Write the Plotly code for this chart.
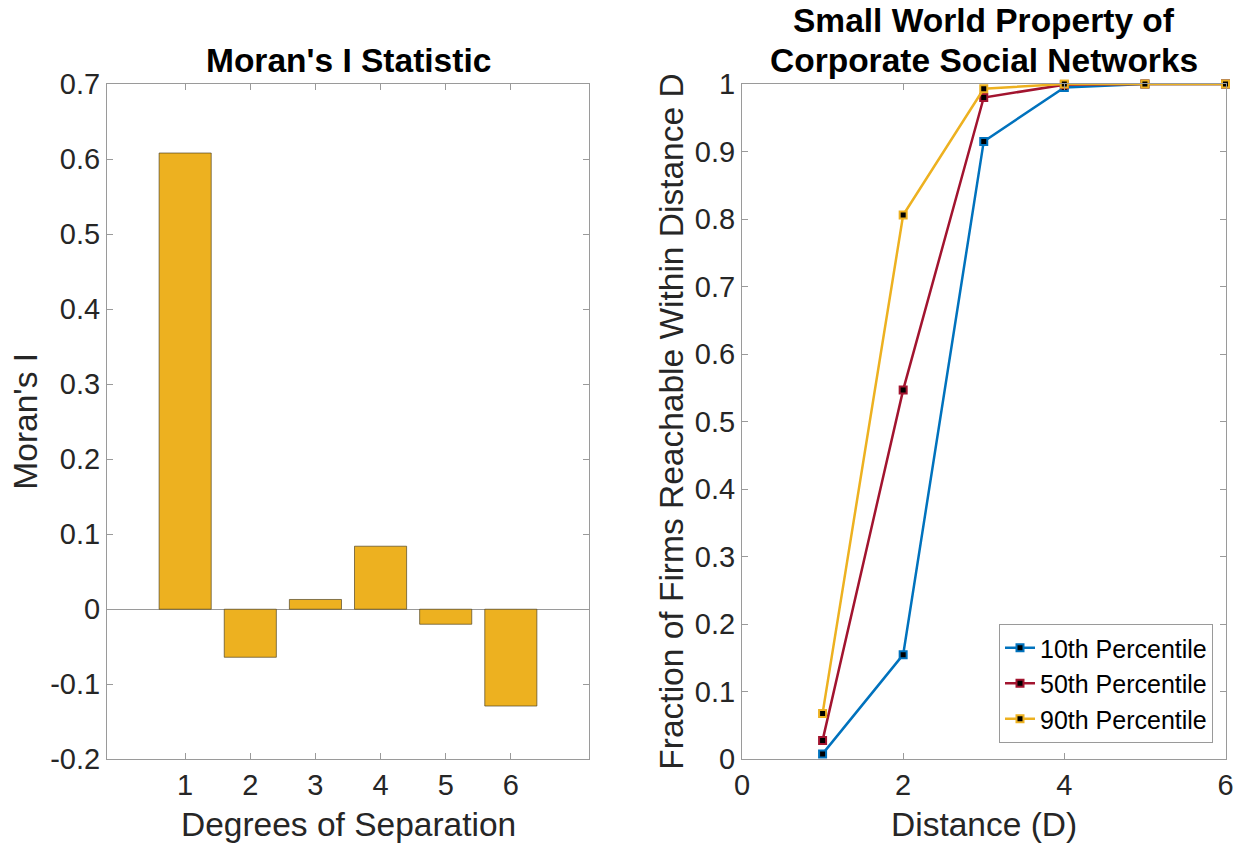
import plotly.graph_objects as go

# ---- data ----
degrees = [1, 2, 3, 4, 5, 6]
morans_i = [0.608, -0.064, 0.013, 0.084, -0.020, -0.129]

distance = [1, 2, 3, 4, 5, 6]
p10 = [0.008, 0.155, 0.915, 0.995, 1.0, 1.0]
p50 = [0.028, 0.547, 0.980, 0.999, 1.0, 1.0]
p90 = [0.068, 0.806, 0.993, 1.0, 1.0, 1.0]

series_names = ["10th Percentile", "50th Percentile", "90th Percentile"]
series_colors = ["#0072BD", "#A2142F", "#EDB120"]

left_yticks = [-0.2, -0.1, 0, 0.1, 0.2, 0.3, 0.4, 0.5, 0.6, 0.7]
left_yticklabels = ["-0.2", "-0.1", "0", "0.1", "0.2", "0.3", "0.4", "0.5", "0.6", "0.7"]
right_yticks = [0, 0.1, 0.2, 0.3, 0.4, 0.5, 0.6, 0.7, 0.8, 0.9, 1.0]
right_yticklabels = ["0", "0.1", "0.2", "0.3", "0.4", "0.5", "0.6", "0.7", "0.8", "0.9", "1"]
right_xticks = [0, 2, 4, 6]

W, H = 1239, 843
FONT = "Liberation Sans, Arial, Helvetica, sans-serif"
TICK_SIZE = 29
LABEL_SIZE = 33.5
TITLE_SIZE = 33.5
AXIS_COLOR = "#9a9a9a"
TEXT_COLOR = "#262626"

# target axes boxes in window pixels
L_X0, L_X1 = 107, 589
R_X0, R_X1 = 742, 1225.5
Y_TOP, Y_BOT = 84, 759.3

def px_x(x):
    return x / W

def px_y(y):
    return 1 - y / H

fig = go.Figure()

fig.add_trace(go.Bar(
    x=degrees, y=morans_i, width=0.8,
    marker=dict(color="#EDB120", line=dict(color="rgba(70,60,30,0.65)", width=1)),
    xaxis="x", yaxis="y", showlegend=False,
))

for name, color, vals in zip(series_names, series_colors, [p10, p50, p90]):
    fig.add_trace(go.Scatter(
        x=distance, y=vals, name=name, mode="lines+markers",
        line=dict(color=color, width=2.5),
        marker=dict(symbol="square", size=7, color="black", line=dict(color=color, width=2)),
        xaxis="x2", yaxis="y2", cliponaxis=False,
    ))

common_axis = dict(
    showline=True, linecolor=AXIS_COLOR, linewidth=1, mirror="ticks",
    ticks="inside", ticklen=6, tickcolor=AXIS_COLOR, tickwidth=1,
    showgrid=False, automargin=False,
    tickfont=dict(family=FONT, size=TICK_SIZE, color=TEXT_COLOR),
)

fig.update_layout(
    width=W, height=H, autosize=False,
    margin=dict(l=0, r=0, t=0, b=0, pad=0, autoexpand=False),
    paper_bgcolor="white", plot_bgcolor="white",
    font=dict(family=FONT, color=TEXT_COLOR),
    xaxis=dict(domain=[px_x(L_X0), px_x(L_X1)], range=[-0.2, 7.2], tickvals=degrees,
               anchor="y", zeroline=False, ticklabelstandoff=0, **common_axis),
    yaxis=dict(domain=[px_y(Y_BOT), px_y(Y_TOP)], range=[-0.2, 0.7], tickvals=left_yticks,
               ticktext=left_yticklabels, anchor="x", zeroline=True, zerolinecolor=AXIS_COLOR,
               zerolinewidth=1, ticklabelstandoff=0, **common_axis),
    xaxis2=dict(domain=[px_x(R_X0), px_x(R_X1)], range=[0, 6], tickvals=right_xticks,
                anchor="y2", zeroline=False, ticklabelstandoff=0, **common_axis),
    yaxis2=dict(domain=[px_y(Y_BOT), px_y(Y_TOP)], range=[0, 1], tickvals=right_yticks,
                ticktext=right_yticklabels, anchor="x2", zeroline=False, ticklabelstandoff=0,
                **common_axis),
    legend=dict(x=px_x(1213), y=px_y(743), xanchor="right", yanchor="bottom",
                bgcolor="white", bordercolor=AXIS_COLOR, borderwidth=1,
                font=dict(family=FONT, size=25, color="black"),
                tracegroupgap=0, itemwidth=30),
    showlegend=True,
)

annotations = [
    dict(text="<b>Moran's I Statistic</b>", x=px_x((L_X0 + L_X1) / 2), y=px_y(61),
         font=dict(size=TITLE_SIZE, color="black")),
    dict(text="<b>Small World Property of</b>", x=px_x((R_X0 + R_X1) / 2), y=px_y(20),
         font=dict(size=TITLE_SIZE, color="black")),
    dict(text="<b>Corporate Social Networks</b>", x=px_x((R_X0 + R_X1) / 2), y=px_y(61),
         font=dict(size=TITLE_SIZE, color="black")),
    dict(text="Degrees of Separation", x=px_x((L_X0 + L_X1) / 2), y=px_y(824),
         font=dict(size=LABEL_SIZE, color=TEXT_COLOR)),
    dict(text="Distance (D)", x=px_x((R_X0 + R_X1) / 2), y=px_y(824),
         font=dict(size=LABEL_SIZE, color=TEXT_COLOR)),
    dict(text="Moran's I", x=px_x(26), y=px_y((Y_TOP + Y_BOT) / 2), textangle=-90,
         font=dict(size=LABEL_SIZE, color=TEXT_COLOR)),
    dict(text="Fraction of Firms Reachable Within Distance D", x=px_x(672),
         y=px_y((Y_TOP + Y_BOT) / 2), textangle=-90,
         font=dict(size=LABEL_SIZE, color=TEXT_COLOR)),
]
for a in annotations:
    a.update(xref="paper", yref="paper", showarrow=False, xanchor="center", yanchor="middle")
    a["font"]["family"] = FONT
fig.update_layout(annotations=annotations)

fig.write_html("out.html", config={"displayModeBar": False},
               post_script="document.body.style.margin='0';document.body.style.overflow='hidden';")
